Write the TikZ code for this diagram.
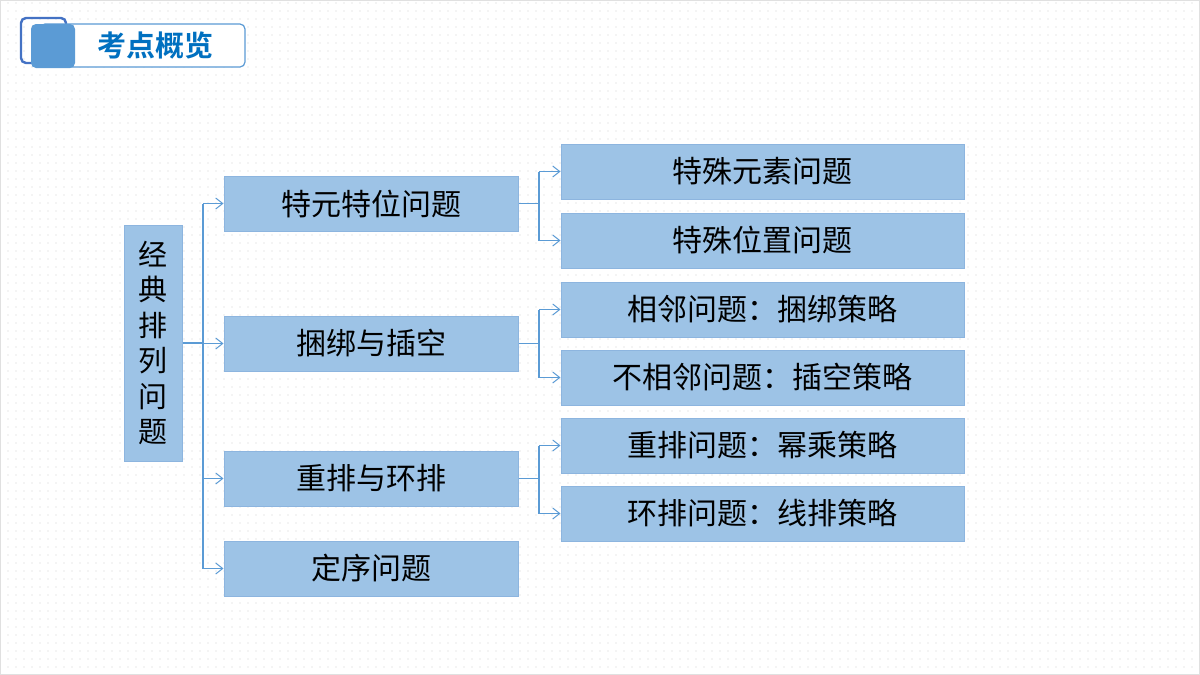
\documentclass[tikz,border=0pt]{standalone}
\usepackage{fontspec}
\setmainfont{Noto Sans CJK SC}
\newfontfamily\cjkb{Noto Sans CJK SC}[BoldFont={* Bold}]
\usetikzlibrary{arrows.meta,patterns.meta}
\definecolor{boxfill}{HTML}{9DC3E6}
\definecolor{boxdraw}{HTML}{8DB5DF}
\definecolor{lineblue}{HTML}{5B9BD5}
\definecolor{darkblue}{HTML}{4472C4}
\definecolor{titleblue}{HTML}{0070C0}
\tikzset{
  box/.style={fill=boxfill, draw=boxdraw, line width=1pt, inner sep=0pt, text=black,
    font=\fontsize{30}{36}\selectfont},
  midbox/.style={box, minimum width=294pt, minimum height=55pt},
  rightbox/.style={box, minimum width=403pt, minimum height=55pt},
  conn/.style={draw=lineblue, line width=1.2pt},
  arr/.style={conn, -{Straight Barb[length=7pt,width=11pt,line width=1pt]}}
}
\begin{document}
\begin{tikzpicture}[x=1pt,y=-1pt]
\useasboundingbox (0,0) rectangle (1200,675);
\fill[white] (0,0) rectangle (1200,675);
\pattern[pattern={Dots[distance=8pt,radius=0.55pt]}, pattern color=black!18] (0,0) rectangle (1200,675);
\draw[black!12, line width=1pt] (0.5,0.5) rectangle (1199.5,674.5);

% title
\draw[darkblue, line width=2.4pt, rounded corners=5pt] (21,18) rectangle (66,63);
\draw[lineblue, line width=1.2pt, fill=white, rounded corners=5pt] (40,24) rectangle (245,67);
\fill[lineblue, rounded corners=5pt] (31,24) rectangle (75,68);
\node[font=\cjkb\bfseries\fontsize{29}{34}\selectfont, text=titleblue] (title) at (155,45) {考点概览};

% left box
\node[box, minimum width=58pt, minimum height=236pt, align=center,
  font=\fontsize{29}{35.5}\selectfont] (L) at (153,343) {经\\典\\排\\列\\问\\题};

% middle boxes
\node[midbox] (M1) at (371,203.5) {特元特位问题};
\node[midbox] (M2) at (371,343.5) {捆绑与插空};
\node[midbox] (M3) at (371,478.5) {重排与环排};
\node[midbox] (M4) at (371,568.5) {定序问题};

% right boxes
\node[rightbox] (R1) at (762.5,171.5) {特殊元素问题};
\node[rightbox] (R2) at (762.5,240.5) {特殊位置问题};
\node[rightbox] (R3) at (762.5,309.5) {相邻问题：捆绑策略};
\node[rightbox] (R4) at (762.5,377.5) {不相邻问题：插空策略};
\node[rightbox] (R5) at (762.5,445.5) {重排问题：幂乘策略};
\node[rightbox] (R6) at (762.5,513.5) {环排问题：线排策略};

% connectors
\coordinate (t) at (203,0);
\coordinate (u) at (539,0);
\draw[conn] (L.east) -- (L.east -| t);
\draw[conn] (t |- M1.west) -- (t |- M4.west);
\foreach \m in {M1,M2,M3,M4} \draw[arr] (t |- \m.west) -- (\m.west);

\foreach \m/\a/\b in {M1/R1/R2, M2/R3/R4, M3/R5/R6}{
  \draw[conn] (\m.east) -- (\m.east -| u);
  \draw[conn] (u |- \a.west) -- (u |- \b.west);
  \draw[arr] (u |- \a.west) -- (\a.west);
  \draw[arr] (u |- \b.west) -- (\b.west);
}
\end{tikzpicture}
\end{document}
